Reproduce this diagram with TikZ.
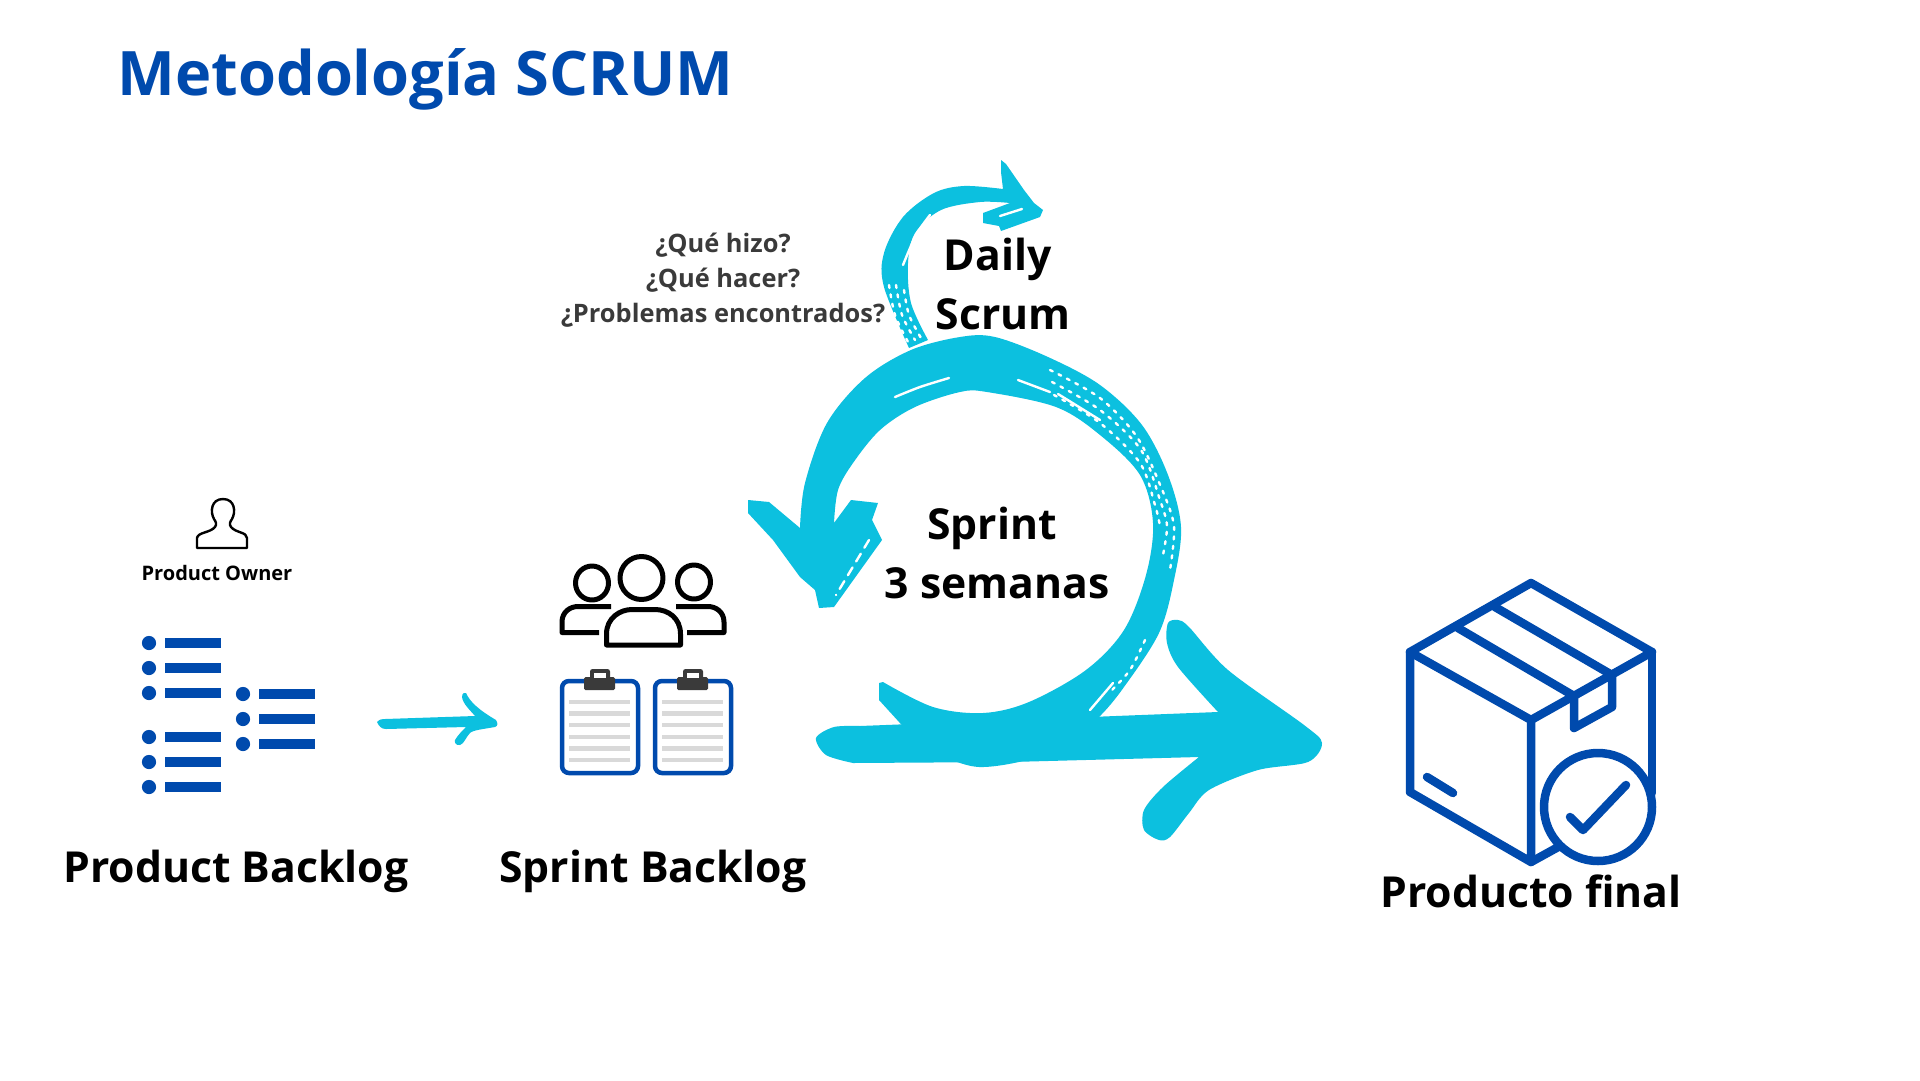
\documentclass[tikz,border=0pt]{standalone}
\usepackage{fontspec}
\setmainfont{Open Sans}
\definecolor{scy}{HTML}{0CC0DF}
\definecolor{sbl}{HTML}{004AAD}
\definecolor{sdk}{HTML}{3A3A3A}
\definecolor{sgr}{HTML}{D9D9D9}
\tikzset{
 big/.style={font=\bfseries\fontsize{42.7}{42.7}\selectfont,text=black,inner sep=0pt},
 ask/.style={font=\bfseries\fontsize{25.4}{25.4}\selectfont,text=sdk,inner sep=0pt},
 ink/.style={draw=black,line width=5pt,line join=round},
 boxln/.style={draw=sbl,line width=8.5pt,line join=round,line cap=round},
 speck/.style={draw=white,line width=2.4pt,line cap=round,dash pattern=on 3pt off 6.5pt},
 slit/.style={draw=white,line width=2.4pt,line cap=round},
 bar/.style={fill=sbl},
 gline/.style={fill=sgr},
 clipb/.style={draw=sbl,line width=4.5pt,rounded corners=7pt,fill=white},
}
\newcommand{\bulletrow}[3]{%
 \fill[sbl] (#1,#2) circle (7.1pt);
 \fill[bar] (#1+15.5,#2-5.3) rectangle (#1+72,#2+5.3);
}
\newcommand{\clipboard}[1]{%
 \draw[clipb] (#1+1,681) rectangle (#1+77,773);
 \foreach \yy in {702,713.5,725,737,748.5,760}{\fill[gline] (#1+8,\yy-2.2) rectangle (#1+69,\yy+2.2);}
 \fill[sdk,rounded corners=1.5pt] (#1+23,677) rectangle (#1+54,690);
 \fill[sdk,rounded corners=2.5pt] (#1+29,669) rectangle (#1+49,680);
 \fill[white] (#1+33,673) rectangle (#1+45,677.5);
}
\begin{document}
\begin{tikzpicture}[x=1pt,y=-1pt]
\useasboundingbox (0,0) rectangle (1920,1080);
\fill[white] (0,0) rectangle (1920,1080);

\node[font=\bfseries\fontsize{61.3}{61.3}\selectfont,text=sbl,anchor=center,inner sep=0pt] (title) at (425.5,79) {Metodología SCRUM};

% Daily arrow
\fill[scy] plot[smooth,tension=.55] coordinates {(909,348) (884,287) (884,253) (903,217) (934,193) (964,186) (1003,189)}
  -- (1001,172) -- (1001,160) -- (1006,164) -- (1024,190) -- (1034,203) -- (1043,210) -- (1040,217) -- (1001,231) -- (999,226) -- (983,223) -- (983,213) -- (1010,203)
  -- plot[smooth,tension=.55] coordinates {(1010,203) (980,202) (941,210) (915,233) (908,263) (911,303) (928,340)} -- cycle;
\draw[slit] plot[smooth] coordinates {(930,215) (916,235) (903,265)};
\draw[speck] plot[smooth] coordinates {(889,285) (895,315) (908,342)};
\draw[speck] plot[smooth] coordinates {(896,285) (902,315) (915,340)};
\draw[speck] plot[smooth] coordinates {(904,290) (909,315) (921,338)};
\draw[slit] (1000,216) -- (1022,209);

% Sprint arrow
\fill[scy] (748,500) -- (769,502) -- (800,528)
  -- plot[smooth,tension=.55] coordinates {(800,528) (805,483) (827,423) (865,378) (911,350) (960,337) (995,337) (1048,357) (1100,385) (1142,425) (1168,475) (1181,527) (1174,580) (1159,633) (1124,687) (1098,718) (1060,750) (979,767) (920,745)}
  -- (879,700) -- (879,683)
  -- plot[smooth,tension=.55] coordinates {(883,682) (933,707) (983,713) (1029,702) (1086,670) (1124,630) (1146,575) (1153,523) (1140,475) (1100,435) (1056,407) (987,392) (960,392) (915,407) (880,430) (853,463) (838,490) (834,523)}
  -- (851,500) -- (878,503) -- (872,520) -- (882,540) -- (834,607) -- (819,608) -- (815,590) -- (800,577) -- (773,540) -- (748,513) -- cycle;
\draw[slit] plot[smooth] coordinates {(895,397) (920,387) (949,378)};
\draw[slit] (1018,380) -- (1050,392);
\draw[slit] (1058,394) -- (1100,420);
\draw[speck] plot[smooth] coordinates {(1050,370) (1100,398) (1137,437) (1161,487) (1174,526) (1170,570)};
\draw[speck] plot[smooth] coordinates {(1052,382) (1100,410) (1141,450) (1160,500) (1167,526) (1163,555)};
\draw[speck] plot[smooth] coordinates {(1054,395) (1100,423) (1140,463) (1155,505) (1160,526)};
\draw[speck] plot[smooth] coordinates {(1145,640) (1130,670) (1110,692)};
\draw[slit] (1113,683) -- (1090,710);
\draw[slit,dash pattern=on 9pt off 7pt] (869,540) -- (836,595);

% Final arrow
\fill[scy] plot[smooth,tension=.5] coordinates {(853,763) (826,755) (816,738) (834,727) (860,726)}
  -- (1218,712) -- plot[smooth,tension=.5] coordinates {(1218,712) (1178,667) (1167,643) (1168,623) (1178,620) (1189,627) (1228,670) (1304,725) (1322,743) (1308,762) (1258,770) (1209,790) (1189,813) (1170,837) (1159,840) (1144,830) (1144,810) (1163,787) (1199,757)}
  -- (1010,762) -- cycle;

% Labels of the loop
\node[big] (daily) at (997.5,259) {Daily};
\node[big] (scrum) at (1003,314) {Scrum};
\node[big] (sprint) at (992,528) {Sprint};
\node[big] (sem) at (997,583) {3 semanas};
\node[ask] (q1) at (723,245) {¿Qué hizo?};
\node[ask] (q2) at (723,280) {¿Qué hacer?};
\node[ask] (q3) at (723,315) {¿Problemas encontrados?};

% Product owner
\draw[draw=black,line width=2.4pt,line join=round] (197,548) -- (197,538)
  .. controls (198,532) and (210,533) .. (215,527) .. controls (217,524) and (216,522) .. (214,519)
  .. controls (210,512) and (211,499) .. (223,499) .. controls (235,499) and (236,512) .. (232,519)
  .. controls (230,522) and (229,524) .. (231,527) .. controls (236,533) and (247,532) .. (247,538) -- (247,548) -- cycle;
\node[font=\bfseries\fontsize{20}{20}\selectfont,text=black,inner sep=0pt] (po) at (217,573) {Product Owner};

% Lists
\foreach \yy in {643,668,693,737,762,787}{\bulletrow{149}{\yy}}
\foreach \yy in {694,719,744}{\bulletrow{243}{\yy}}
\node[big] (pb) at (236,871) {Product Backlog};

% small arrow
\fill[scy] (377,722) .. controls (380,719) and (382,719) .. (385,719) -- (475,716)
  .. controls (470,710) and (463,704) .. (462,697) .. controls (462,693) and (465,692) .. (466,693)
  .. controls (470,702) and (479,710) .. (496,720) .. controls (498,723) and (498,726) .. (495,727)
  .. controls (484,729) and (473,730) .. (470,733) .. controls (466,737) and (464,744) .. (460,745)
  .. controls (456,746) and (454,742) .. (455,740) .. controls (458,735) and (462,731) .. (466,727)
  -- (386,729) .. controls (381,729) and (379,726) .. (377,722) -- cycle;

% Team
\draw[ink] (641.5,578) circle (21.5pt);
\draw[ink] (592,583) ellipse (16.5pt and 17pt);
\draw[ink] (694,582) ellipse (16.5pt and 17pt);
\draw[ink] (606.5,645) -- (606.5,634) .. controls (606.5,618) and (620,609.5) .. (632,609.5) -- (655,609.5) .. controls (668,609.5) and (680.5,618) .. (680.5,634) -- (680.5,645) -- cycle;
\draw[ink] (599,632.5) -- (562,632.5) -- (562,622) .. controls (562,612) and (570,606.5) .. (578,606.5) -- (611,606.5);
\draw[ink] (687,632.5) -- (724,632.5) -- (724,622) .. controls (724,612) and (716,606.5) .. (708,606.5) -- (676,606.5);

% Clipboards
\clipboard{561}
\clipboard{654}
\node[big] (sb) at (653,871) {Sprint Backlog};

% Box
\draw[boxln] (1531,583) -- (1652,652) -- (1531,720) -- (1410,652) -- cycle;
\draw[boxln] (1410,652) -- (1410,792) -- (1531,862) -- (1531,720);
\draw[boxln] (1652,652) -- (1652,793);
\draw[boxln] (1531,862) -- (1560,846);
\draw[boxln] (1495,607) -- (1612,675);
\draw[boxln] (1458,628) -- (1574,696);
\draw[boxln] (1574,696) -- (1574,728) -- (1612,707) -- (1612,675);
\draw[boxln] (1427,777) -- (1453,793);
\draw[draw=sbl,line width=8.5pt,fill=white] (1598,807) circle (54pt);
\draw[boxln] (1570,817) -- (1583,830) -- (1626,785);
\node[big] (pf) at (1531,891) {Producto final};
\end{tikzpicture}
\end{document}
